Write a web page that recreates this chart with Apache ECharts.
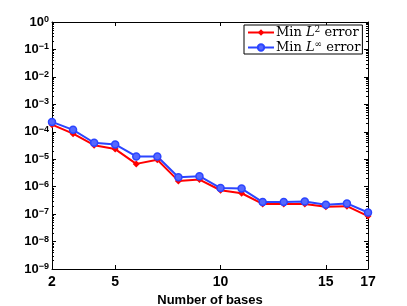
<!DOCTYPE html>
<html><head><meta charset="utf-8">
<script src="https://cdn.jsdelivr.net/npm/echarts@6/dist/echarts.min.js"></script>
<style>html,body{margin:0;padding:0;background:#fff}#c{width:407px;height:306px}</style>
</head><body><div id="c"></div>
<script>
const bases = [2,3,4,5,6,7,8,9,10,11,12,13,14,15,16,17];
const logL2 = [-3.74,-4.07,-4.49,-4.63,-5.17,-5.02,-5.79,-5.74,-6.13,-6.24,-6.63,-6.63,-6.63,-6.73,-6.71,-7.07];
const logLinf = [-3.64,-3.93,-4.40,-4.46,-4.90,-4.90,-5.66,-5.62,-6.05,-6.07,-6.56,-6.56,-6.54,-6.66,-6.61,-6.94];
const xTicks = [2,5,10,15,17];
const yMinExp = -9, yMaxExp = 0;

const l2 = bases.map((b,i)=>[b, Math.pow(10, logL2[i])]);
const linf = bases.map((b,i)=>[b, Math.pow(10, logLinf[i])]);

const chart = echarts.init(document.getElementById('c'), null, {renderer:'canvas'});
const lblFont = {fontFamily:'Liberation Sans', fontWeight:'bold', color:'#000'};
const axLine = {show:true, onZero:false, lineStyle:{color:'#000', width:1}};
const yBase = {
  type:'log', logBase:10, min:Math.pow(10,yMinExp), max:Math.pow(10,yMaxExp),
  axisLine:axLine,
  axisTick:{show:true, inside:true, length:4, lineStyle:{color:'#000'}},
  minorTick:{show:true, splitNumber:9, length:2, lineStyle:{color:'#000'}},
  splitLine:{show:false}, minorSplitLine:{show:false}
};
const xBase = {
  type:'value', min:2, max:17, interval:1,
  axisLine:axLine,
  axisTick:{show:true, inside:true, length:4, customValues:xTicks, lineStyle:{color:'#000'}},
  splitLine:{show:false}
};
chart.setOption({
  animation:false,
  grid:{left:52, right:39, top:22, bottom:37, show:false, containLabel:false, outerBoundsMode:'none'},
  legend:{
    left:244, top:25, orient:'vertical', itemGap:1, itemWidth:26, itemHeight:8,
    backgroundColor:'#fff', borderColor:'#000', borderWidth:1, padding:[0,2,0,3],
    textStyle:{fontFamily:'DejaVu Serif', fontSize:13, color:'#000', padding:[0,0,0,-3],
      rich:{
        a:{fontFamily:'DejaVu Serif', fontSize:13},
        i:{fontFamily:'DejaVu Serif', fontStyle:'italic', fontSize:13},
        s:{fontFamily:'DejaVu Serif', fontSize:9, verticalAlign:'bottom', padding:[0,0,6,0]}
      }},
    formatter: n => n==='l2' ? '{a|Min }{i|L}{s|2}{a| error}' : '{a|Min }{i|L}{s|∞}{a| error}',
    data:['l2','linf']
  },
  xAxis:[
    Object.assign({}, xBase, {
      position:'bottom',
      axisLabel:{customValues:xTicks, fontSize:14, margin:6, ...lblFont},
      name:'Number of bases', nameLocation:'middle', nameGap:16,
      nameTextStyle:{fontSize:13, ...lblFont}
    }),
    Object.assign({}, xBase, {position:'top', axisLabel:{show:false}})
  ],
  yAxis:[
    Object.assign({}, yBase, {
      position:'left',
      axisLabel:{
        margin:3,
        formatter: v => '{b|10}{e|' + Math.round(Math.log10(v)).toString().replace('-', '\u2212') + '}',
        rich:{
          b:{fontSize:13, fontFamily:'Liberation Sans', fontWeight:'bold', color:'#000', lineHeight:14, padding:[5,0,5,0]},
          e:{fontSize:9, fontFamily:'Liberation Sans', fontWeight:'bold', color:'#000', verticalAlign:'top', lineHeight:10}
        }
      }
    }),
    Object.assign({}, yBase, {position:'right', axisLabel:{show:false}})
  ],
  series:[
    {name:'l2', type:'line', data:l2, symbol:'diamond', symbolSize:7,
     lineStyle:{color:'#ff0000', width:2}, itemStyle:{color:'#ff0000'}},
    {name:'linf', type:'line', data:linf, symbol:'circle', symbolSize:7,
     lineStyle:{color:'#2b45ff', width:2}, itemStyle:{color:'#5568ff', borderColor:'#2b45ff', borderWidth:1.5}}
  ]
});
</script></body></html>
